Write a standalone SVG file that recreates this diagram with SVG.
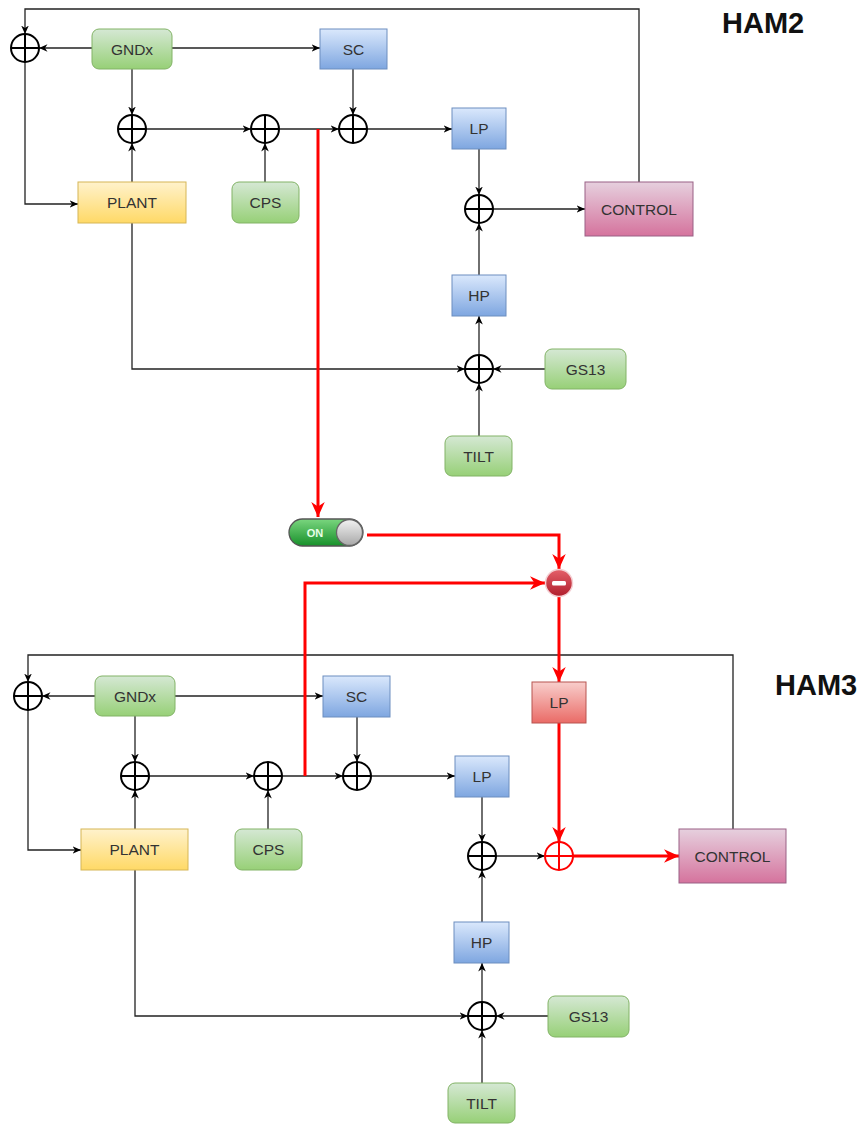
<svg xmlns="http://www.w3.org/2000/svg" width="864" height="1124" viewBox="0 0 864 1124">
<style>
.lbl{font-family:"Liberation Sans",Arial,sans-serif;font-size:15.5px;fill:#333;text-anchor:middle;dominant-baseline:central}
.ttl{font-family:"Liberation Sans",Arial,sans-serif;font-size:29px;font-weight:bold;fill:#111}
.ln{fill:none;stroke:#333;stroke-width:1.3}
.lna{fill:none;stroke:#222;stroke-width:1.3;marker-end:url(#ab)}
.red{fill:none;stroke:#ff0000;stroke-width:3}
.reda{fill:none;stroke:#ff0000;stroke-width:3;marker-end:url(#ar)}
.sum{fill:#fff;stroke:#000;stroke-width:2}
.sumr{fill:#fff;stroke:#ff0000;stroke-width:2}
.g{fill:url(#gG);stroke:#82b366}
.b{fill:url(#gB);stroke:#6c8ebf}
.y{fill:url(#gY);stroke:#d6b656}
.p{fill:url(#gP);stroke:#996185}
.r{fill:url(#gR);stroke:#b85450}
</style>
<defs>
<linearGradient id="gG" x1="0" y1="0" x2="0" y2="1"><stop offset="0" stop-color="#d5e8d4"/><stop offset="1" stop-color="#97d077"/></linearGradient>
<linearGradient id="gB" x1="0" y1="0" x2="0" y2="1"><stop offset="0" stop-color="#dae8fc"/><stop offset="1" stop-color="#7ea6e0"/></linearGradient>
<linearGradient id="gY" x1="0" y1="0" x2="0" y2="1"><stop offset="0" stop-color="#fff2cc"/><stop offset="1" stop-color="#ffd966"/></linearGradient>
<linearGradient id="gP" x1="0" y1="0" x2="0" y2="1"><stop offset="0" stop-color="#e6d0de"/><stop offset="1" stop-color="#d5739d"/></linearGradient>
<linearGradient id="gR" x1="0" y1="0" x2="0" y2="1"><stop offset="0" stop-color="#f8cecc"/><stop offset="1" stop-color="#ea6b66"/></linearGradient>
<linearGradient id="gSw" x1="0" y1="0" x2="0" y2="1"><stop offset="0" stop-color="#7ad67f"/><stop offset="1" stop-color="#17902a"/></linearGradient>
<linearGradient id="gKn" x1="0" y1="0" x2="0" y2="1"><stop offset="0" stop-color="#f2f2f2"/><stop offset="1" stop-color="#a8a8a8"/></linearGradient>
<linearGradient id="gMn" x1="0" y1="0" x2="0" y2="1"><stop offset="0" stop-color="#e4606a"/><stop offset="1" stop-color="#b01e2c"/></linearGradient>
<marker id="ab" viewBox="0 0 10 10" refX="10" refY="5" markerWidth="8.5" markerHeight="8.5" markerUnits="userSpaceOnUse" orient="auto"><path d="M0,0.5 L10,5 L0,9.5 L3,5 Z" fill="#000"/></marker>
<marker id="ar" viewBox="0 0 10 10" refX="10" refY="5" markerWidth="15" markerHeight="15" markerUnits="userSpaceOnUse" orient="auto"><path d="M0,0.5 L10,5 L0,9.5 L3,5 Z" fill="#ff0000"/></marker>
</defs>

<g id="connectors">
<!-- HAM2 -->
<path class="lna" d="M92,48 H39"/>
<path class="lna" d="M172,48 H320"/>
<path class="lna" d="M132,69 V115"/>
<path class="lna" d="M132,182 V143"/>
<path class="lna" d="M146,129 H251"/>
<path class="lna" d="M265,182 V143"/>
<path class="lna" d="M279,129 H339"/>
<path class="lna" d="M353,69 V115"/>
<path class="lna" d="M367,129 H452"/>
<path class="lna" d="M479,149 V195"/>
<path class="lna" d="M493,209 H585"/>
<path class="lna" d="M479,275 V223"/>
<path class="lna" d="M479,355 V316"/>
<path class="lna" d="M545,369 H493"/>
<path class="lna" d="M479,436 V383"/>
<path class="lna" d="M132,223 V369 H465"/>
<path class="lna" d="M639,182 V9 H25 V34"/>
<path class="lna" d="M25,62 V204 H78"/>
<!-- HAM3 -->
<path class="lna" d="M95,696 H42"/>
<path class="lna" d="M175,696 H323"/>
<path class="lna" d="M135,716 V762"/>
<path class="lna" d="M135,829 V790"/>
<path class="lna" d="M149,776 H254"/>
<path class="lna" d="M268,829 V790"/>
<path class="lna" d="M282,776 H343"/>
<path class="lna" d="M357,717 V762"/>
<path class="lna" d="M371,776 H455"/>
<path class="lna" d="M482,797 V842"/>
<path class="lna" d="M496,856 H545"/>
<path class="lna" d="M482,922 V870"/>
<path class="lna" d="M482,1002 V963"/>
<path class="lna" d="M548,1016 H496"/>
<path class="lna" d="M482,1083 V1030"/>
<path class="lna" d="M135,870 V1016 H468"/>
<path class="lna" d="M733,829 V655 H28 V682"/>
<path class="lna" d="M28,710 V850 H81"/>
<!-- red -->
<path class="reda" d="M318,129 V517"/>
<path class="reda" d="M367,535 H559 V569"/>
<path class="reda" d="M305,776 V583 H545"/>
<path class="reda" d="M559,597 V682"/>
<path class="reda" d="M559,723 V842"/>
<path class="reda" d="M573,856 H679"/>
</g>

<g id="ham2-title"><text class="ttl" x="722" y="33">HAM2</text></g>
<g id="ham3-title"><text class="ttl" x="775" y="695">HAM3</text></g>

<!-- HAM2 nodes -->
<g id="h2-sum1"><circle class="sum" cx="25" cy="48" r="14"/><path d="M11,48 H39 M25,34 V62" stroke="#000" stroke-width="2"/></g>
<g id="h2-gndx"><rect class="g" x="92" y="29" width="80" height="40" rx="7"/><text class="lbl" x="132" y="49">GNDx</text></g>
<g id="h2-sc"><rect class="b" x="320" y="29" width="67" height="40"/><text class="lbl" x="353.5" y="49">SC</text></g>
<g id="h2-sum2"><circle class="sum" cx="132" cy="129" r="14"/><path d="M118,129 H146 M132,115 V143" stroke="#000" stroke-width="2"/></g>
<g id="h2-sum3"><circle class="sum" cx="265" cy="129" r="14"/><path d="M251,129 H279 M265,115 V143" stroke="#000" stroke-width="2"/></g>
<g id="h2-sum4"><circle class="sum" cx="353" cy="129" r="14"/><path d="M339,129 H367 M353,115 V143" stroke="#000" stroke-width="2"/></g>
<g id="h2-plant"><rect class="y" x="78" y="182" width="108" height="41"/><text class="lbl" x="132" y="202.5">PLANT</text></g>
<g id="h2-cps"><rect class="g" x="232" y="182" width="67" height="41" rx="7"/><text class="lbl" x="265.5" y="202.5">CPS</text></g>
<g id="h2-lp"><rect class="b" x="452" y="108" width="54" height="41"/><text class="lbl" x="479" y="128.5">LP</text></g>
<g id="h2-sum5"><circle class="sum" cx="479" cy="209" r="14"/><path d="M465,209 H493 M479,195 V223" stroke="#000" stroke-width="2"/></g>
<g id="h2-control"><rect class="p" x="585" y="182" width="108" height="54"/><text class="lbl" x="639" y="209">CONTROL</text></g>
<g id="h2-hp"><rect class="b" x="452" y="275" width="54" height="41"/><text class="lbl" x="479" y="295.5">HP</text></g>
<g id="h2-sum6"><circle class="sum" cx="479" cy="369" r="14"/><path d="M465,369 H493 M479,355 V383" stroke="#000" stroke-width="2"/></g>
<g id="h2-gs13"><rect class="g" x="545" y="349" width="81" height="40" rx="7"/><text class="lbl" x="585.5" y="369">GS13</text></g>
<g id="h2-tilt"><rect class="g" x="445" y="436" width="67" height="40" rx="7"/><text class="lbl" x="478.5" y="456">TILT</text></g>

<!-- switch and minus -->
<g id="switch">
<rect x="289" y="519" width="74" height="27" rx="13.5" fill="url(#gSw)" stroke="#555" stroke-width="1.3"/>
<text x="315" y="533" font-family="'Liberation Sans',Arial,sans-serif" font-size="11" font-weight="bold" fill="#e8ffe8" text-anchor="middle" dominant-baseline="central">ON</text>
<circle cx="349.5" cy="532.5" r="13" fill="url(#gKn)" stroke="#666" stroke-width="1.3"/>
</g>
<g id="minus">
<circle cx="559" cy="583" r="13.5" fill="url(#gMn)" stroke="#f4d0d4" stroke-width="1.5"/>
<rect x="552" y="581" width="14" height="4.5" rx="1.5" fill="#fff"/>
</g>

<!-- HAM3 nodes -->
<g id="h3-sum1"><circle class="sum" cx="28" cy="696" r="14"/><path d="M14,696 H42 M28,682 V710" stroke="#000" stroke-width="2"/></g>
<g id="h3-gndx"><rect class="g" x="95" y="676" width="80" height="40" rx="7"/><text class="lbl" x="135" y="696">GNDx</text></g>
<g id="h3-sc"><rect class="b" x="323" y="676" width="67" height="41"/><text class="lbl" x="356.5" y="696.5">SC</text></g>
<g id="h3-sum2"><circle class="sum" cx="135" cy="776" r="14"/><path d="M121,776 H149 M135,762 V790" stroke="#000" stroke-width="2"/></g>
<g id="h3-sum3"><circle class="sum" cx="268" cy="776" r="14"/><path d="M254,776 H282 M268,762 V790" stroke="#000" stroke-width="2"/></g>
<g id="h3-sum4"><circle class="sum" cx="357" cy="776" r="14"/><path d="M343,776 H371 M357,762 V790" stroke="#000" stroke-width="2"/></g>
<g id="h3-plant"><rect class="y" x="81" y="829" width="107" height="41"/><text class="lbl" x="134.5" y="849.5">PLANT</text></g>
<g id="h3-cps"><rect class="g" x="235" y="829" width="67" height="41" rx="7"/><text class="lbl" x="268.5" y="849.5">CPS</text></g>
<g id="h3-lp"><rect class="b" x="455" y="756" width="54" height="41"/><text class="lbl" x="482" y="776.5">LP</text></g>
<g id="h3-lp-red"><rect class="r" x="532" y="682" width="54" height="41"/><text class="lbl" x="559" y="702.5">LP</text></g>
<g id="h3-sum5"><circle class="sum" cx="482" cy="856" r="14"/><path d="M468,856 H496 M482,842 V870" stroke="#000" stroke-width="2"/></g>
<g id="h3-sum-red"><circle class="sumr" cx="559" cy="856" r="14"/><path d="M545,856 H573 M559,842 V870" stroke="#ff0000" stroke-width="2"/></g>
<g id="h3-control"><rect class="p" x="679" y="829" width="107" height="54"/><text class="lbl" x="732.5" y="856">CONTROL</text></g>
<g id="h3-hp"><rect class="b" x="454" y="922" width="55" height="41"/><text class="lbl" x="481.5" y="942.5">HP</text></g>
<g id="h3-sum6"><circle class="sum" cx="482" cy="1016" r="14"/><path d="M468,1016 H496 M482,1002 V1030" stroke="#000" stroke-width="2"/></g>
<g id="h3-gs13"><rect class="g" x="548" y="996" width="81" height="41" rx="7"/><text class="lbl" x="588.5" y="1016.5">GS13</text></g>
<g id="h3-tilt"><rect class="g" x="448" y="1083" width="67" height="40" rx="7"/><text class="lbl" x="481.5" y="1103">TILT</text></g>
</svg>
